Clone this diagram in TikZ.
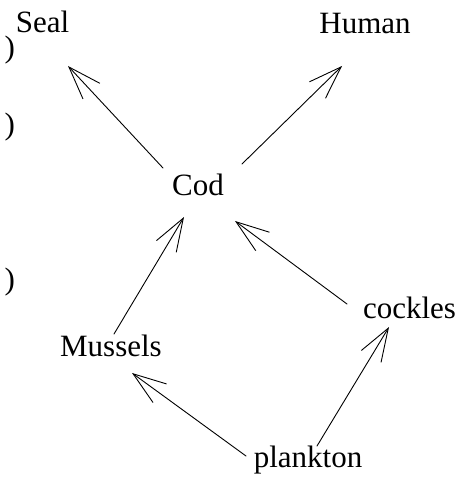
\documentclass[tikz,border=0pt]{standalone}
\usepackage{fontspec}
\setmainfont{Liberation Serif}
\usetikzlibrary{arrows.meta}
\tikzset{
  lbl/.style={anchor=base, inner sep=0pt, font=\fontsize{31}{37}\selectfont},
  par/.style={anchor=base west, inner sep=0pt, font=\fontsize{31}{37}\selectfont},
  eat/.style={line width=0.9pt, line cap=round,
    -{Straight Barb[length=33pt, width=23pt, line width=0.9pt]}}
}
\begin{document}
\begin{tikzpicture}[x=1pt, y=-1pt]
  \useasboundingbox (0,0) rectangle (470,484);
  % species labels
  \node[lbl] (seal)     at (42.5,33)  {Seal};
  \node[lbl] (human)    at (365,34)   {Human};
  \node[lbl] (cod)      at (198,195)  {Cod};
  \node[lbl] (mussels)  at (111,356)  {Mussels};
  \node[lbl] (cockles)  at (409.5,318) {cockles};
  \node[lbl] (plankton) at (308,467)  {plankton};
  % stray brackets on the left margin
  \node[par] (br1) at (4.5,57.5)  {)};
  \node[par] (br2) at (4.5,134.5) {)};
  \node[par] (br3) at (4.5,289.5) {)};
  % who is eaten by whom
  \draw[eat] ([shift={(-35,-27)}]cod.base) -- ([shift={(25.5,33)}]seal.base);
  \draw[eat] ([shift={(44,-31)}]cod.base) -- ([shift={(-23,32)}]human.base);
  \draw[eat] ([shift={(3,-22)}]mussels.base) -- ([shift={(-14,22)}]cod.base);
  \draw[eat] ([shift={(-62.5,-14)}]cockles.base) -- ([shift={(37,26)}]cod.base);
  \draw[eat] ([shift={(-62,-11)}]plankton.base) -- ([shift={(21,17)}]mussels.base);
  \draw[eat] ([shift={(9,-21)}]plankton.base) -- ([shift={(-20.5,9)}]cockles.base);
\end{tikzpicture}
\end{document}
